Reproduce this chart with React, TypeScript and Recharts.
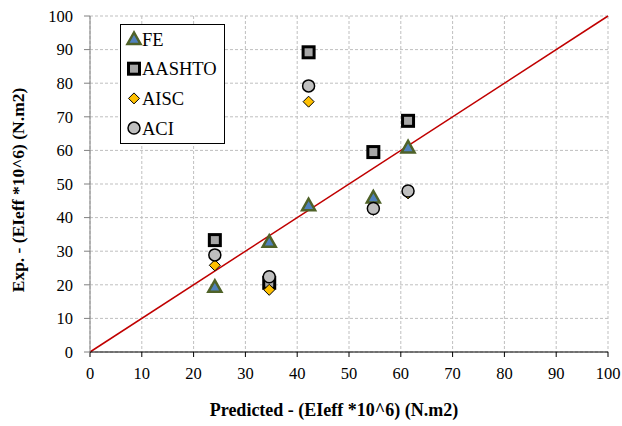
import React from "react";
import {
  CartesianGrid,
  Line,
  ComposedChart,
  Scatter,
  XAxis,
  YAxis,
} from "recharts";

const feData = [
  { x: 24.1, y: 19.4 },
  { x: 34.6, y: 32.8 },
  { x: 42.2, y: 43.7 },
  { x: 54.7, y: 46.0 },
  { x: 61.4, y: 60.9 },
];

const aashtoData = [
  { x: 24.1, y: 33.3 },
  { x: 34.6, y: 20.6 },
  { x: 42.2, y: 89.2 },
  { x: 54.7, y: 59.5 },
  { x: 61.4, y: 68.8 },
];

const aiscData = [
  { x: 24.1, y: 25.8 },
  { x: 34.6, y: 18.5 },
  { x: 42.2, y: 74.5 },
  { x: 54.7, y: 42.3 },
  { x: 61.4, y: 47.2 },
];

const aciData = [
  { x: 24.1, y: 28.9 },
  { x: 34.6, y: 22.4 },
  { x: 42.2, y: 79.2 },
  { x: 54.7, y: 42.7 },
  { x: 61.4, y: 47.9 },
];

const lineData = [
  { x: 0, y: 0 },
  { x: 100, y: 100 },
];

const ticks = [0, 10, 20, 30, 40, 50, 60, 70, 80, 90, 100];

const FONT = "Liberation Serif";

const Triangle = (p: any) => (
  <polygon
    points={`${p.cx},${p.cy - 6.5} ${p.cx - 6.5},${p.cy + 5} ${p.cx + 6.5},${p.cy + 5}`}
    fill="#4F81BD"
    stroke="#4F6228"
    strokeWidth={2.5}
  />
);

const Square = (p: any) => (
  <rect x={p.cx - 5.5} y={p.cy - 5.5} width={11} height={11} fill="#A6A6A6" stroke="#000" strokeWidth={3} />
);

const Diamond = (p: any) => (
  <polygon
    points={`${p.cx},${p.cy - 5.5} ${p.cx + 5.5},${p.cy} ${p.cx},${p.cy + 5.5} ${p.cx - 5.5},${p.cy}`}
    fill="#FFC000"
    stroke="#000"
    strokeWidth={1}
  />
);

const Circle = (p: any) => (
  <circle cx={p.cx} cy={p.cy} r={6} fill="#BFBFBF" stroke="#000" strokeWidth={1.5} />
);

const legendItems = [
  { name: "FE", Icon: Triangle },
  { name: "AASHTO", Icon: Square },
  { name: "AISC", Icon: Diamond },
  { name: "ACI", Icon: Circle },
];

const LegendBox = () => (
  <svg width={105} height={120} style={{ position: "absolute", left: 120, top: 24 }}>
    <rect x={0.5} y={0.5} width={104} height={119} fill="#fff" stroke="#000" strokeWidth={1} />
    {legendItems.map((it, i) => {
      const cy = 15 + i * 29.7;
      return (
        <g key={it.name}>
          <it.Icon cx={14} cy={cy} />
          <text x={22} y={cy + 6.5} fontFamily={FONT} fontSize={18.5} fill="#000">
            {it.name}
          </text>
        </g>
      );
    })}
  </svg>
);

const YTitle = () => (
  <text
    x={18}
    y={190}
    transform="rotate(-90, 18, 190)"
    textAnchor="middle"
    dominantBaseline="central"
    fontFamily={FONT}
    fontSize={17.5}
    fontWeight="bold"
    fill="#000"
  >
    Exp. - (EIeff *10^6) (N.m2)
  </text>
);

const XTitle = () => (
  <text
    x={334}
    y={416}
    textAnchor="middle"
    fontFamily={FONT}
    fontSize={18}
    fontWeight="bold"
    fill="#000"
  >
    Predicted - (EIeff *10^6) (N.m2)
  </text>
);

export default function App() {
  return (
    <div
      style={{
        position: "absolute",
        left: 0,
        top: 0,
        width: 622,
        height: 426,
        background: "#fff",
        fontFamily: FONT,
      }}
    >
      <ComposedChart
        width={622}
        height={426}
        margin={{ top: 16, right: 14, bottom: 0, left: 0 }}
      >
        <CartesianGrid stroke="#BFBFBF" strokeDasharray="3 2" />
        <XAxis
          type="number"
          dataKey="x"
          domain={[0, 100]}
          ticks={ticks}
          interval={0}
          height={74}
          axisLine={{ stroke: "#000" }}
          tickLine={{ stroke: "#000" }}
          tickSize={5}
          tickMargin={10}
          tick={{ fontFamily: FONT, fontSize: 16.5, fill: "#000" }}
          label={() => <XTitle />}
        />
        <YAxis
          type="number"
          dataKey="y"
          domain={[0, 100]}
          ticks={ticks}
          interval={0}
          width={90}
          axisLine={{ stroke: "#808080" }}
          tickLine={{ stroke: "#808080" }}
          tickSize={6}
          tickMargin={11}
          tick={{ fontFamily: FONT, fontSize: 16.5, fill: "#000" }}
          label={() => <YTitle />}
        />
        <Line
          data={lineData}
          dataKey="y"
          type="linear"
          stroke="#C00000"
          strokeWidth={1.5}
          dot={false}
          activeDot={false}
          isAnimationActive={false}
          legendType="none"
        />
        <Scatter name="FE" data={feData} shape={Triangle} isAnimationActive={false} />
        <Scatter name="AASHTO" data={aashtoData} shape={Square} isAnimationActive={false} />
        <Scatter name="AISC" data={aiscData} shape={Diamond} isAnimationActive={false} />
        <Scatter name="ACI" data={aciData} shape={Circle} isAnimationActive={false} />
      </ComposedChart>
      <LegendBox />
    </div>
  );
}
